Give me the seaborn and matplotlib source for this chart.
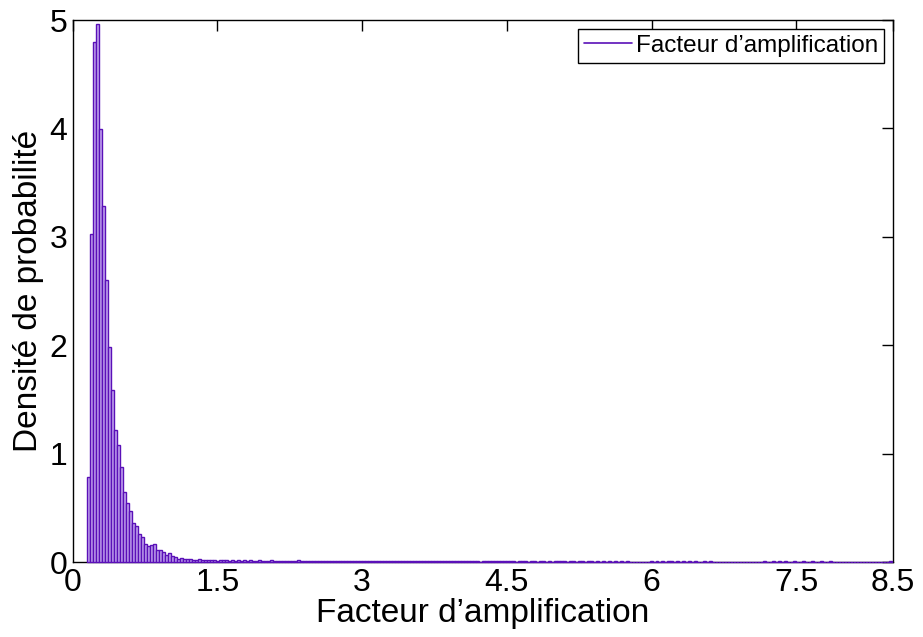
import numpy as np
import pandas as pd
import matplotlib
matplotlib.use("Agg")
import matplotlib.pyplot as plt
from matplotlib.lines import Line2D
import seaborn as sns

# histogram bins
bin_start = 0.151
bin_width = 0.031

# density per bin, left to right
peak_density = [0.78, 3.03, 4.80, 4.96, 3.99, 3.28, 2.60, 1.98, 1.59, 1.22,
                1.08, 0.88, 0.65, 0.54, 0.47, 0.36, 0.33, 0.26, 0.23, 0.17,
                0.15, 0.16, 0.165, 0.11, 0.115, 0.09, 0.066, 0.08]
mid_density = [0.055, 0.046, 0.03, 0.037, 0.028, 0.024, 0.032, 0.022, 0.02, 0.026,
               0.018, 0.02, 0.015, 0.022, 0.017, 0.013, 0.02, 0.015, 0.017, 0.012,
               0.016, 0.014, 0.019, 0.011, 0.015, 0.013, 0.018, 0.01, 0.014, 0.016,
               0.011, 0.013, 0.009, 0.015, 0.012, 0.011, 0.014, 0.01, 0.013, 0.009,
               0.012, 0.011, 0.015, 0.01, 0.009, 0.013, 0.011, 0.008, 0.012, 0.01,
               0.009, 0.011, 0.014, 0.008, 0.01, 0.009, 0.011, 0.008, 0.012, 0.009,
               0.01, 0.008, 0.009, 0.011, 0.007, 0.01, 0.009, 0.008, 0.011, 0.007]
tail_density = [0.009, 0.007, 0.01, 0.006, 0.008, 0.007, 0.006, 0.01, 0.007, 0.006,
                0.009, 0.006, 0.007, 0.009, 0.006, 0.007, 0.006, 0.009, 0.007, 0.006,
                0.008, 0.006, 0.009, 0.005, 0.007, 0.006, 0.008, 0.005, 0.006, 0.007,
                0.005, 0.007, 0.006, 0.004, 0.006, 0.007, 0.005, 0.006, 0.007, 0.005,
                0.006, 0.005,
                0.006, 0.005, 0.007, 0.004, 0.006, 0.005, 0.006, 0.004, 0.005, 0.006,
                0.004, 0.005, 0.006, 0.004, 0.005, 0.004,
                0.006, 0.005, 0.007, 0.005, 0.004, 0.006, 0.005, 0.004, 0.006, 0.005,
                0.004, 0.005, 0.006, 0.004, 0.005, 0.004, 0.006, 0.004, 0.005, 0.004,
                0.005, 0.004, 0.006, 0.004, 0.005, 0.004,
                0.0, 0.0, 0.0, 0.0, 0.0, 0.0,
                0.005, 0.004, 0.006, 0.004, 0.005, 0.004, 0.005, 0.006, 0.004, 0.005,
                0.004, 0.005, 0.004, 0.006, 0.004, 0.005, 0.004, 0.004, 0.005, 0.004,
                0.005, 0.004, 0.004,
                0.0, 0.0, 0.0, 0.0, 0.0, 0.0, 0.0, 0.0, 0.0, 0.0,
                0.0, 0.0, 0.0, 0.0,
                0.004, 0.005, 0.004, 0.004, 0.005, 0.004, 0.006, 0.004, 0.005, 0.004,
                0.004, 0.005, 0.004, 0.004, 0.005, 0.004, 0.004, 0.005, 0.004, 0.004,
                0.005, 0.004, 0.004, 0.005, 0.004, 0.004, 0.004,
                0.0, 0.0, 0.0, 0.0, 0.0, 0.0, 0.0, 0.0, 0.0, 0.0,
                0.0, 0.0, 0.0,
                0.0, 0.0, 0.0, 0.005]

xtick_values = [0, 1.5, 3, 4.5, 6, 7.5, 8.5]
xtick_labels = ["0", "1.5", "3", "4.5", "6", "7.5", "8.5"]
ytick_values = [0, 1, 2, 3, 4, 5]

density = np.array(peak_density + mid_density + tail_density)
edges = bin_start + bin_width * np.arange(len(density) + 1)
df = pd.DataFrame({"x": (edges[:-1] + edges[1:]) / 2, "w": density})

sns.set_style("white")
plt.rcParams["font.family"] = ["Liberation Sans", "DejaVu Sans"]
plt.rcParams["text.color"] = "black"
plt.rcParams["axes.labelcolor"] = "black"

edge_col = "#5a10b8"
fill_col = "#c2a4ee"

fig = plt.figure(figsize=(9.23, 6.37), dpi=100)
ax = fig.add_axes([0.0788, 0.1177, 0.8884, 0.8509])

sns.histplot(data=df, x="x", weights="w", bins=list(edges), stat="count",
             color=fill_col, edgecolor=edge_col, linewidth=1.0, alpha=1,
             ax=ax)
# bars sit on top of the bottom spine, like the original
for p in ax.patches:
    p.set_zorder(3)
    p.set_clip_on(False)

ax.set_xlim(0, 8.5)
ax.set_ylim(0, 5)
ax.set_xticks(xtick_values)
ax.set_xticklabels(xtick_labels)
ax.set_yticks(ytick_values)
ax.tick_params(direction="in", length=8, width=1, top=True, right=True,
               labelsize=23, colors="black", pad=4)
for s in ax.spines.values():
    s.set_color("black")
    s.set_linewidth(1)
ax.set_xlabel("Facteur d’amplification", fontsize=24, labelpad=0)
ax.set_ylabel("Densité de probabilité", fontsize=24, labelpad=4)

handle = Line2D([0], [0], color=edge_col, linewidth=1.2)
leg = ax.legend([handle], ["Facteur d’amplification"], loc="upper right",
                fontsize=17.5, frameon=True, fancybox=False, framealpha=1,
                edgecolor="black", handlelength=2.0, handletextpad=0.15,
                borderpad=0.25, borderaxespad=0.35)
leg.get_frame().set_linewidth(1)
leg.set_zorder(5)

fig.savefig("out.png", dpi=100)
